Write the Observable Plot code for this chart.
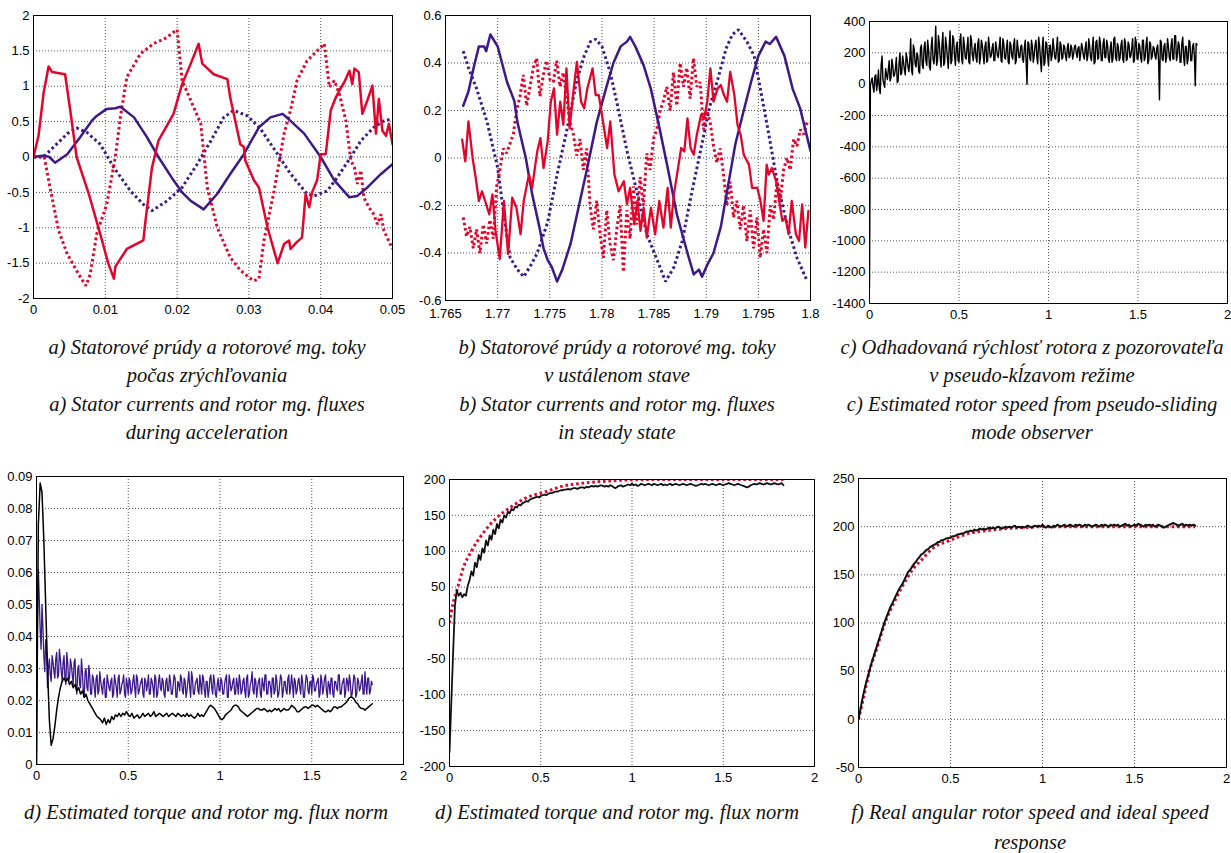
<!DOCTYPE html>
<html><head><meta charset="utf-8">
<script src="https://cdn.jsdelivr.net/npm/d3@7"></script>
<script src="https://cdn.jsdelivr.net/npm/@observablehq/plot@0.6"></script>
<style>
body{margin:0;background:#fff}
#root{position:relative;width:1231px;height:853px;overflow:hidden;background:#fff}
.cap{position:absolute;font-family:"Liberation Serif","Times New Roman",serif;font-style:italic;font-size:20.5px;line-height:20px;height:20px;text-align:center;color:#111;white-space:nowrap}
</style></head>
<body><div id="root"></div>
<script>
// ---------- Panel a: acceleration (t, value) ----------
const aRedSolid = [[0,0],[0.0007,0.3],[0.0014,0.9],[0.0021,1.28],[0.0026,1.2],[0.0044,1.17],[0.0052,0.6],[0.006,0],[0.0077,-0.52],[0.0093,-1.09],[0.0104,-1.5],[0.0112,-1.72],[0.0114,-1.55],[0.013,-1.3],[0.0145,-1.22],[0.0153,-1.18],[0.0156,-0.9],[0.0165,-0.15],[0.0174,0.23],[0.0195,0.61],[0.0207,1.03],[0.0219,1.32],[0.023,1.6],[0.0235,1.32],[0.0251,1.17],[0.027,1.1],[0.0274,0.84],[0.0288,0.18],[0.0293,0.14],[0.0295,-0.05],[0.0307,-0.33],[0.0314,-0.43],[0.0326,-1.0],[0.034,-1.5],[0.0349,-1.23],[0.0356,-1.18],[0.0358,-1.3],[0.0367,-1.2],[0.0374,-1.14],[0.0379,-0.52],[0.0384,-0.71],[0.0388,-0.5],[0.0395,-0.33],[0.04,0.04],[0.0407,0.04],[0.0414,0.66],[0.0421,0.84],[0.0426,0.94],[0.0433,1.06],[0.044,1.22],[0.0444,1.03],[0.0447,1.25],[0.0453,1.2],[0.0458,0.61],[0.0465,0.8],[0.0472,1.01],[0.0477,0.33],[0.0481,0.82],[0.0486,0.37],[0.0491,0.3],[0.0495,0.47],[0.05,0.18]];
const aRedDot = [[0,0],[0.0015,0],[0.0023,-0.43],[0.0035,-1.04],[0.0047,-1.37],[0.0063,-1.66],[0.0073,-1.82],[0.0079,-1.66],[0.0088,-1.09],[0.0102,-0.67],[0.0114,0],[0.0121,0.56],[0.013,1.13],[0.0149,1.46],[0.0167,1.6],[0.0186,1.69],[0.0198,1.79],[0.02,1.8],[0.0207,1.08],[0.0219,0.8],[0.0233,0.47],[0.0242,-0.43],[0.0256,-1.0],[0.0274,-1.42],[0.0288,-1.6],[0.03,-1.7],[0.0307,-1.75],[0.0314,-1.72],[0.0321,-1.18],[0.0335,-0.48],[0.0349,0.33],[0.0358,0.66],[0.0367,1.08],[0.0381,1.36],[0.0395,1.5],[0.0405,1.6],[0.0412,0.99],[0.0419,1.08],[0.0426,0.89],[0.0435,0.52],[0.0442,-0.05],[0.0447,-0.15],[0.0451,-0.38],[0.0456,-0.19],[0.046,-0.57],[0.0467,-0.71],[0.0474,-0.81],[0.0479,-0.95],[0.0484,-0.81],[0.0488,-1.04],[0.05,-1.3]];
const aPurSolid = [[0,0],[0.0015,0.02],[0.0022,0],[0.003,-0.08],[0.0047,0.04],[0.0065,0.28],[0.0081,0.51],[0.0088,0.58],[0.0102,0.68],[0.0114,0.69],[0.0121,0.71],[0.014,0.56],[0.0158,0.28],[0.0174,0],[0.0195,-0.33],[0.0207,-0.5],[0.0219,-0.62],[0.0237,-0.74],[0.0256,-0.52],[0.0274,-0.24],[0.0293,0.04],[0.0314,0.42],[0.033,0.56],[0.0347,0.61],[0.0358,0.51],[0.0377,0.33],[0.04,0],[0.0419,-0.33],[0.044,-0.57],[0.0451,-0.55],[0.0465,-0.43],[0.0484,-0.24],[0.05,-0.1]];
const aPurDot = [[0,0],[0.0014,0],[0.0028,0.14],[0.0047,0.33],[0.006,0.41],[0.0074,0.35],[0.0093,0.18],[0.0112,-0.15],[0.0135,-0.48],[0.0153,-0.67],[0.0165,-0.76],[0.0186,-0.62],[0.0207,-0.43],[0.0228,-0.1],[0.0247,0.23],[0.0265,0.56],[0.0279,0.66],[0.0298,0.58],[0.0316,0.4],[0.034,0.04],[0.0358,-0.24],[0.0381,-0.52],[0.0391,-0.55],[0.0409,-0.48],[0.0423,-0.29],[0.0442,0],[0.0456,0.23],[0.0474,0.42],[0.0488,0.51],[0.05,0.54]];

// ---------- Panel b: steady state ----------
const bPurSolid = [[1.7667,0.22],[1.7672,0.28],[1.7677,0.38],[1.7682,0.47],[1.7687,0.47],[1.7689,0.45],[1.7693,0.52],[1.77,0.47],[1.7709,0.32],[1.7716,0.24],[1.7719,0.15],[1.7727,0],[1.7733,-0.15],[1.774,-0.29],[1.7744,-0.38],[1.7748,-0.43],[1.7752,-0.46],[1.7757,-0.52],[1.7762,-0.47],[1.777,-0.36],[1.7776,-0.24],[1.7786,-0.04],[1.7795,0.15],[1.7805,0.31],[1.7811,0.4],[1.7818,0.47],[1.7824,0.49],[1.7827,0.51],[1.7832,0.47],[1.784,0.39],[1.7847,0.29],[1.7855,0.13],[1.7863,-0.04],[1.7872,-0.24],[1.7882,-0.4],[1.7888,-0.49],[1.7893,-0.47],[1.7896,-0.5],[1.7901,-0.45],[1.7907,-0.4],[1.7914,-0.29],[1.792,-0.14],[1.7928,0.06],[1.7936,0.2],[1.7943,0.32],[1.795,0.43],[1.7957,0.49],[1.7961,0.48],[1.7967,0.51],[1.7975,0.43],[1.7983,0.29],[1.799,0.21],[1.8,0.03]];
const bPurDot = [[1.7667,0.45],[1.7672,0.38],[1.768,0.29],[1.769,0.15],[1.77,-0.04],[1.7706,-0.24],[1.7712,-0.42],[1.7719,-0.47],[1.7725,-0.5],[1.7732,-0.45],[1.7738,-0.4],[1.7748,-0.27],[1.7757,-0.07],[1.7767,0.13],[1.7776,0.33],[1.7783,0.43],[1.7789,0.49],[1.7794,0.5],[1.78,0.47],[1.7808,0.36],[1.7815,0.22],[1.7824,0.03],[1.7834,-0.15],[1.7843,-0.32],[1.7853,-0.43],[1.7861,-0.52],[1.7869,-0.46],[1.7877,-0.35],[1.7885,-0.17],[1.7895,0.04],[1.7903,0.21],[1.7911,0.33],[1.7919,0.46],[1.7925,0.52],[1.7931,0.54],[1.7939,0.49],[1.7946,0.43],[1.7952,0.29],[1.796,0.1],[1.7968,-0.1],[1.7978,-0.29],[1.7987,-0.42],[1.7997,-0.52]];
const bRedSolid = [[1.7666,0.077],[1.7669,-0.014],[1.7672,0.154],[1.7676,0],[1.7679,-0.084],[1.7682,-0.181],[1.7685,-0.14],[1.7688,-0.181],[1.7692,-0.237],[1.7695,-0.153],[1.7698,-0.307],[1.7702,-0.426],[1.7706,-0.181],[1.771,-0.405],[1.7714,-0.167],[1.7718,-0.209],[1.7722,-0.321],[1.7725,-0.181],[1.773,-0.07],[1.7733,-0.126],[1.7738,0.028],[1.7741,0.084],[1.7744,-0.042],[1.7748,0.07],[1.7751,0.237],[1.7754,0.293],[1.7757,0.098],[1.776,0.237],[1.7763,0.14],[1.7766,0.377],[1.7769,0.126],[1.7773,0.293],[1.7776,0.405],[1.778,0.237],[1.7783,0.209],[1.7786,0.293],[1.7791,0.377],[1.7794,0.265],[1.7797,0.265],[1.7801,0.154],[1.7805,0.042],[1.7808,0.154],[1.7812,-0.07],[1.7816,-0.14],[1.7821,-0.098],[1.7824,-0.195],[1.7827,-0.126],[1.7831,-0.279],[1.7834,-0.181],[1.7837,-0.307],[1.784,-0.209],[1.7843,-0.335],[1.7847,-0.209],[1.7851,-0.321],[1.7855,-0.181],[1.7859,-0.293],[1.7863,-0.126],[1.7866,-0.293],[1.7869,-0.153],[1.7872,-0.07],[1.7876,0.042],[1.7879,0.028],[1.7882,0.167],[1.7885,0.042],[1.7888,0.014],[1.7891,0.098],[1.7895,0.181],[1.7898,0.167],[1.7901,0.237],[1.7904,0.377],[1.7907,0.237],[1.7911,0.293],[1.7914,0.307],[1.7917,0.265],[1.792,0.237],[1.7923,0.363],[1.7927,0.265],[1.793,0.14],[1.7933,0.098],[1.7936,0.014],[1.7941,-0.028],[1.7944,-0.126],[1.7949,-0.126],[1.7952,-0.181],[1.7955,-0.265],[1.7958,-0.028],[1.796,-0.07],[1.7963,-0.042],[1.7967,-0.098],[1.797,-0.181],[1.7973,-0.265],[1.7976,-0.251],[1.7979,-0.321],[1.7982,-0.181],[1.7986,-0.321],[1.7989,-0.349],[1.7992,-0.195],[1.7995,-0.377],[1.7998,-0.223]];
const bRedDotStart = 1.7667, bRedDotStep = 0.00032;
const bRedDot = [-0.25,-0.33,-0.29,-0.38,-0.3,-0.4,-0.28,-0.36,-0.26,-0.34,-0.12,-0.05,0.04,0.02,0.06,0.1,0.2,0.26,0.35,0.22,0.3,0.38,0.42,0.26,0.35,0.41,0.33,0.32,0.41,0.3,0.36,0.25,0.15,0.1,0.01,0.08,-0.05,0.04,-0.2,-0.3,-0.18,-0.32,-0.42,-0.22,-0.36,-0.43,-0.3,-0.2,-0.48,-0.22,-0.34,-0.12,-0.28,-0.08,-0.2,0.02,-0.05,0.08,0.12,0.2,0.24,0.3,0.2,0.36,0.22,0.4,0.3,0.38,0.25,0.42,0.3,0.32,0.12,0.2,0.15,0.05,-0.02,0.04,-0.07,-0.2,-0.1,-0.25,-0.18,-0.3,-0.2,-0.35,-0.22,-0.38,-0.25,-0.42,-0.3,-0.4,-0.2,-0.26,-0.1,-0.18,-0.05,0,-0.05,0.08,0.05,0.12,0.1,0.15,0.15];

// ---------- Long runs sampled every 0.01 s (t = 0 ... 1.83), plus the in-between samples (t + 0.005) ----------
const sampleStep = 0.01;
const cSpeed = [-1300,20,-20,50,-40,90,-60,180,0,100,
30,150,40,120,60,170,20,200,70,140,
60,160,80,290,60,220,110,180,70,250,
100,270,120,220,90,300,130,370,150,260,
110,330,140,250,100,340,150,290,120,270,
140,320,130,250,160,300,130,280,150,260,
140,290,170,250,130,270,150,240,180,260,
150,230,170,300,140,260,160,280,130,250,
160,290,150,230,170,250,140,280,0,260,
150,240,180,280,130,250,80,300,140,260,
120,250,180,230,160,300,150,250,170,240,
150,260,180,230,190,250,170,240,200,230,
160,270,180,240,150,300,140,280,170,260,
150,290,170,250,140,270,160,300,150,240,
170,280,140,260,160,250,180,290,150,270,
160,240,140,280,170,300,150,260,180,230,
160,250,-100,270,150,260,170,240,150,290,
160,310,180,250,140,300,120,240,160,270,
150,260,-10,250];
const cSpeedMid = [-10,40,-50,60,10,-30,120,30,-20,60,
90,20,160,50,100,10,130,60,180,90,
200,110,150,90,250,130,200,80,230,120,
230,150,280,110,240,160,200,120,310,170,
250,120,300,170,230,130,310,180,240,150,
280,160,300,170,230,140,310,180,230,170,
260,130,280,190,240,140,300,170,230,150,
270,180,240,150,290,170,230,140,270,180,
250,130,280,170,240,160,230,150,270,170,
280,140,250,170,300,160,230,120,270,180,
240,150,290,170,230,140,270,160,250,180,
230,170,250,160,240,200,230,150,260,180,
230,150,290,170,240,130,270,160,300,150,
260,170,280,160,230,140,290,170,260,150,
250,160,290,150,270,170,230,140,300,160,
260,170,280,150,250,130,270,160,240,180,
230,150,280,160,240,140,290,170,250,160,
310,150,270,140,260,170,240,130,280,150,
240,180,260];
const dTorque = [0,0.075,0.088,0.085,0.07,0.05,0.03,0.014,0.006,0.008,
0.012,0.017,0.021,0.024,0.026,0.027,0.026,0.027,0.025,0.026,
0.024,0.025,0.023,0.024,0.022,0.023,0.021,0.022,0.02,0.019,
0.018,0.017,0.016,0.015,0.0145,0.014,0.013,0.0145,0.0125,0.014,
0.013,0.015,0.014,0.0155,0.015,0.016,0.015,0.016,0.0155,0.0165,
0.0155,0.015,0.016,0.0145,0.015,0.0155,0.0145,0.015,0.016,0.015,
0.0155,0.016,0.015,0.0155,0.0165,0.015,0.0155,0.016,0.0155,0.015,
0.0155,0.016,0.015,0.0155,0.016,0.0155,0.015,0.016,0.0155,0.015,
0.0155,0.015,0.016,0.015,0.0155,0.015,0.0145,0.015,0.016,0.015,
0.0155,0.015,0.016,0.017,0.018,0.0185,0.018,0.0175,0.0165,0.0155,
0.0145,0.014,0.0145,0.0155,0.016,0.0165,0.017,0.018,0.0185,0.0185,
0.018,0.017,0.0165,0.016,0.0155,0.015,0.0155,0.016,0.0165,0.017,
0.0175,0.0175,0.017,0.017,0.0175,0.017,0.0165,0.017,0.0165,0.017,
0.0175,0.017,0.0175,0.0165,0.017,0.0175,0.017,0.017,0.0175,0.0185,
0.018,0.0175,0.0165,0.0165,0.017,0.0175,0.018,0.018,0.0175,0.018,
0.0185,0.0185,0.018,0.0185,0.018,0.0175,0.017,0.0165,0.0165,0.017,
0.0165,0.017,0.018,0.018,0.0175,0.018,0.018,0.0185,0.019,0.0195,
0.0205,0.021,0.021,0.0205,0.0195,0.019,0.018,0.0175,0.0175,0.017,
0.0175,0.018,0.0185,0.019];
const dFlux = [0,0.061,0.042,0.05,0.034,0.039,0.024,0.033,0.026,0.032,
0.027,0.035,0.028,0.033,0.026,0.034,0.025,0.032,0.027,0.031,
0.025,0.033,0.022,0.031,0.024,0.029,0.021,0.03,0.023,0.028,
0.022,0.027,0.021,0.028,0.023,0.026,0.022,0.027,0.021,0.026,
0.023,0.027,0.022,0.026,0.021,0.028,0.023,0.026,0.022,0.027,
0.022,0.026,0.023,0.028,0.021,0.027,0.023,0.026,0.022,0.027,
0.023,0.028,0.022,0.026,0.021,0.027,0.022,0.028,0.023,0.026,
0.021,0.027,0.023,0.026,0.022,0.028,0.021,0.026,0.023,0.027,
0.022,0.026,0.023,0.029,0.021,0.027,0.022,0.026,0.023,0.028,
0.022,0.027,0.021,0.026,0.023,0.028,0.022,0.026,0.021,0.027,
0.023,0.026,0.022,0.027,0.021,0.028,0.023,0.026,0.022,0.027,
0.022,0.026,0.023,0.027,0.021,0.028,0.022,0.026,0.023,0.027,
0.021,0.026,0.022,0.027,0.023,0.028,0.022,0.026,0.021,0.027,
0.023,0.026,0.022,0.028,0.021,0.026,0.023,0.027,0.022,0.028,
0.021,0.026,0.023,0.027,0.022,0.026,0.021,0.028,0.023,0.026,
0.022,0.027,0.023,0.026,0.021,0.028,0.022,0.027,0.023,0.026,
0.022,0.027,0.021,0.026,0.023,0.028,0.022,0.026,0.021,0.027,
0.023,0.026,0.022,0.028,0.021,0.027,0.023,0.026,0.022,0.029,
0.022,0.027,0.023,0.025];
const dFluxMid = [0.045,0.052,0.036,0.043,0.029,0.035,0.03,0.028,0.034,0.029,
0.033,0.027,0.036,0.029,0.032,0.027,0.035,0.026,0.033,0.028,
0.032,0.024,0.03,0.025,0.033,0.023,0.029,0.024,0.031,0.022,
0.028,0.024,0.027,0.022,0.029,0.024,0.026,0.021,0.028,0.024,
0.026,0.021,0.028,0.024,0.027,0.022,0.025,0.028,0.021,0.025,
0.027,0.022,0.026,0.024,0.028,0.022,0.025,0.027,0.021,0.026,
0.025,0.022,0.027,0.024,0.028,0.021,0.026,0.024,0.027,0.022,
0.026,0.023,0.028,0.022,0.025,0.027,0.021,0.025,0.028,0.023,
0.027,0.021,0.026,0.024,0.029,0.022,0.025,0.027,0.022,0.025,
0.028,0.023,0.026,0.021,0.027,0.024,0.028,0.022,0.025,0.023,
0.027,0.022,0.025,0.028,0.021,0.026,0.024,0.027,0.022,0.025,
0.028,0.022,0.026,0.023,0.027,0.021,0.025,0.029,0.022,0.026,
0.024,0.027,0.021,0.025,0.028,0.022,0.026,0.024,0.027,0.022,
0.028,0.021,0.025,0.027,0.023,0.026,0.022,0.028,0.024,0.025,
0.027,0.022,0.026,0.024,0.028,0.021,0.025,0.027,0.022,0.026,
0.028,0.023,0.025,0.027,0.022,0.026,0.024,0.028,0.021,0.025,
0.027,0.022,0.026,0.024,0.028,0.022,0.025,0.027,0.023,0.026,
0.028,0.021,0.025,0.027,0.022,0.026,0.024,0.028,0.022,0.025,
0.027,0.022,0.026];
const eSpeed = [-180,-110,-40,25,45,38,42,36,40,38,
52,60,72,66,84,78,95,88,104,98,
115,108,122,116,130,124,138,132,144,140,
150,147,155,153,159,157,162,161,165,164,
167,168,170,169,172,173,174,175,176,175,
177,178,179,178,180,181,181,182,183,183,
184,185,185,186,186,187,186,187,188,188,
187,188,189,189,188,190,189,190,191,190,
191,190,191,192,191,190,191,190,192,191,
189,188,190,191,192,190,191,192,193,192,
194,192,193,191,192,194,193,192,193,194,
193,192,194,193,192,193,194,192,193,192,
193,194,192,193,194,193,192,193,194,193,
192,193,194,193,192,191,192,193,194,193,
194,193,192,193,194,193,192,193,194,193,
192,193,194,195,194,193,192,193,194,193,
192,191,190,189,190,192,193,194,193,194,
195,194,193,194,195,194,193,194,195,194,
193,194,195,192];
const eIdeal = [[0,0],[0.02,28],[0.04,45],[0.077,78],[0.122,101],[0.186,126],[0.26,147],[0.333,161],[0.424,175],[0.516,182],[0.625,191],[0.735,195],[0.88,198],[0.99,199.5],[1.2,200],[1.5,200],[1.83,200]];
const fSpeed = [0,10,20,29,37,44,51,58,64,70,
76,82,88,94,100,105,110,115,119,123,
127,131,135,138,141,145,149,153,155,158,
161,163,166,168,171,172,174,176,177,179,
180,181,182,184,184,186,186,187,188,188,
189,190,190,191,192,192,193,193,194,195,
195,196,195,197,196,197,198,197,198,197,
198,199,198,199,198,199,200,199,198,199,
200,199,200,199,200,201,199,200,199,200,
199,200,201,200,199,200,201,200,201,200,
202,200,199,201,200,199,201,200,202,201,
200,201,202,200,201,202,201,200,202,201,
202,201,200,202,201,202,201,200,201,202,
201,200,202,201,202,201,200,202,201,202,
201,202,200,201,202,203,201,202,200,201,
202,201,203,202,201,200,202,201,202,201,
202,200,201,202,201,200,199,200,201,202,
203,204,203,202,201,202,203,201,202,201,
202,201,202,201];
const fIdeal = [[0,0],[0.03,25],[0.06,50],[0.1,74],[0.14,98],[0.2,124],[0.25,142],[0.3,157],[0.35,167],[0.4,177],[0.5,186],[0.6,193],[0.7,196],[0.8,198],[0.9,199],[1.0,200],[1.2,200],[1.5,200],[1.83,200]];

// ---------- Ticks ----------
const aXTicks = [0,0.01,0.02,0.03,0.04,0.05];
const aYTicks = [-2,-1.5,-1,-0.5,0,0.5,1,1.5,2];
const bXTicks = [1.765,1.77,1.775,1.78,1.785,1.79,1.795,1.8];
const bYTicks = [-0.6,-0.4,-0.2,0,0.2,0.4,0.6];
const longXTicks = [0,0.5,1,1.5,2];
const cYTicks = [-1400,-1200,-1000,-800,-600,-400,-200,0,200,400];
const dYTicks = [0,0.01,0.02,0.03,0.04,0.05,0.06,0.07,0.08,0.09];
const eYTicks = [-200,-150,-100,-50,0,50,100,150,200];
const fYTicks = [-50,0,50,100,150,200,250];

// ---------- Captions ----------
const captions = [
  {cx:207, ys:[347,375,404,432], lines:["a) Statorové prúdy a rotorové mg. toky","počas zrýchľovania","a) Stator currents and rotor mg. fluxes","during acceleration"]},
  {cx:617, ys:[347,375,404,432], lines:["b) Statorové prúdy a rotorové mg. toky","v ustálenom stave","b) Stator currents and rotor mg. fluxes","in steady state"]},
  {cx:1032, ys:[347,375,404,432], lines:["c) Odhadovaná rýchlosť rotora z pozorovateľa","v pseudo-kĺzavom režime","c) Estimated rotor speed from pseudo-sliding","mode observer"]},
  {cx:206, ys:[812], lines:["d) Estimated torque and rotor mg. flux norm"]},
  {cx:617, ys:[812], lines:["d) Estimated torque and rotor mg. flux norm"]},
  {cx:1030, ys:[812,842], lines:["f) Real angular rotor speed and ideal speed","response"]}
];

const RED = "#e3062c", PURPLE = "#3d1a8c", BLACK = "#000";
const root = document.getElementById("root");
const series = (vals) => vals.map((v, i) => [i * sampleStep, v]);
const withMid = (vals, mids) => {
  const out = [];
  vals.forEach((v, i) => {
    out.push([i * sampleStep, v]);
    if (i < mids.length) out.push([i * sampleStep + sampleStep / 2, mids[i]]);
  });
  return out;
};
const evenly = (vals, start, step) => vals.map((v, i) => [start + i * step, v]);

function solid(data, stroke, w) {
  return Plot.line(data, {x: d => d[0], y: d => d[1], stroke, strokeWidth: w, clip: true, strokeLinejoin: "round"});
}
function dotted(data, stroke, w, curve) {
  return Plot.line(data, {x: d => d[0], y: d => d[1], stroke, strokeWidth: w, clip: true,
    strokeDasharray: "2.6,2.8", strokeLinecap: "butt", strokeLinejoin: "miter", curve: curve || "linear"});
}

function panel(o) {
  const fmt = d => String(d);
  const grid = {stroke: "#555", strokeOpacity: 1, strokeDasharray: "1,2", strokeWidth: 1};
  const svg = Plot.plot({
    width: o.width, height: o.height,
    marginLeft: o.mL, marginRight: o.mR, marginTop: o.mT, marginBottom: o.mB,
    style: {fontFamily: "'Liberation Sans', Arial, sans-serif", fontSize: "13px", color: "#000", background: "transparent", overflow: "visible"},
    x: {domain: o.xDomain},
    y: {domain: o.yDomain},
    marks: [
      Plot.gridX(o.xTicks, grid),
      Plot.gridY(o.yTicks, grid),
      ...o.marks,
      Plot.frame({stroke: "#000", strokeWidth: 1}),
      Plot.axisX(o.xTicks, {tickSize: 0, tickPadding: o.xPad || 6, tickFormat: fmt, fontSize: 13, label: null}),
      Plot.axisY(o.yTicks, {tickSize: 0, tickPadding: 4, tickFormat: fmt, fontSize: 13, label: null})
    ]
  });
  svg.style.position = "absolute";
  svg.style.left = o.left + "px";
  svg.style.top = o.top + "px";
  root.appendChild(svg);
}

panel({left: 0, top: 0, width: 410, height: 325, mL: 33, mR: 18, mT: 15, mB: 27,
  xDomain: [0, 0.05], yDomain: [-2, 2], xTicks: aXTicks, yTicks: aYTicks,
  marks: [dotted(aPurDot, PURPLE, 3), dotted(aRedDot, RED, 3), solid(aPurSolid, PURPLE, 2.5), solid(aRedSolid, RED, 2.5)]});

panel({left: 410, top: 0, width: 410, height: 325, mL: 35, mR: 10, mT: 15, mB: 25, xPad: 8,
  xDomain: [1.765, 1.8], yDomain: [-0.6, 0.6], xTicks: bXTicks, yTicks: bYTicks,
  marks: [dotted(bPurDot, PURPLE, 3), dotted(evenly(bRedDot, bRedDotStart, bRedDotStep), RED, 3), solid(bPurSolid, PURPLE, 2.5), solid(bRedSolid, RED, 2.3)]});

panel({left: 820, top: 0, width: 411, height: 325, mL: 49, mR: 4, mT: 21, mB: 22,
  xDomain: [0, 2], yDomain: [-1400, 400], xTicks: longXTicks, yTicks: cYTicks,
  marks: [solid(withMid(cSpeed, cSpeedMid), BLACK, 1.4)]});

panel({left: 0, top: 460, width: 410, height: 330, mL: 36, mR: 7, mT: 16, mB: 26,
  xDomain: [0, 2], yDomain: [0, 0.09], xTicks: longXTicks, yTicks: dYTicks,
  marks: [solid(withMid(dFlux, dFluxMid), PURPLE, 1.3), solid(series(dTorque), BLACK, 1.5)]});

panel({left: 410, top: 460, width: 410, height: 330, mL: 39, mR: 6, mT: 19, mB: 24,
  xDomain: [0, 2], yDomain: [-200, 200], xTicks: longXTicks, yTicks: eYTicks,
  marks: [dotted(eIdeal, RED, 3, "monotone-x"), solid(series(eSpeed), "#111", 1.8)]});

panel({left: 820, top: 460, width: 411, height: 330, mL: 38, mR: 5, mT: 18, mB: 23,
  xDomain: [0, 2], yDomain: [-50, 250], xTicks: longXTicks, yTicks: fYTicks,
  marks: [dotted(fIdeal, RED, 3, "monotone-x"), solid(series(fSpeed), "#111", 2)]});

for (const c of captions) {
  c.lines.forEach((line, k) => {
    const div = document.createElement("div");
    div.className = "cap";
    div.style.left = (c.cx - 205) + "px";
    div.style.width = "410px";
    div.style.top = (c.ys[k] - 10) + "px";
    div.textContent = line;
    root.appendChild(div);
  });
}
</script></body></html>
